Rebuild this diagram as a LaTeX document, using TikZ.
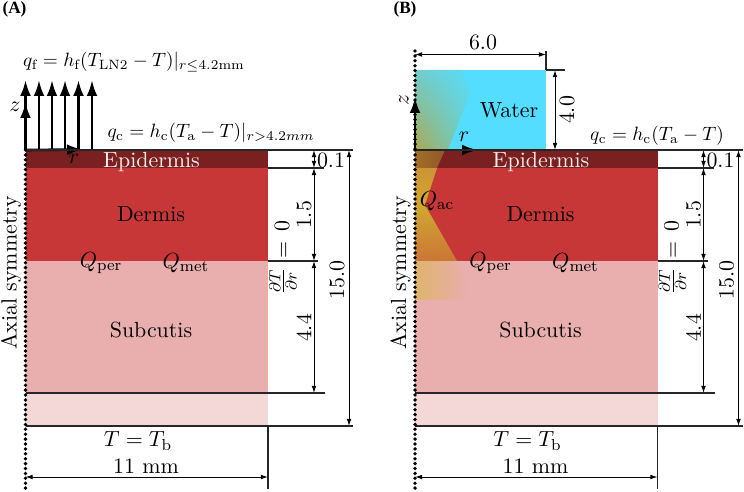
\documentclass[tikz,border=0pt,11pt]{standalone}
\usepackage{amsmath}
\usepackage{fontspec}
\newfontfamily\panelfont{Liberation Serif}
\usetikzlibrary{arrows.meta, shadings}

\definecolor{epicol}{HTML}{7A2020}
\definecolor{dermcol}{HTML}{C83737}
\definecolor{subcol}{HTML}{E9AEAE}
\definecolor{lowcol}{HTML}{F4D7D7}
\definecolor{watercol}{HTML}{55DDFF}
\definecolor{conetl}{HTML}{70CDCF}
\definecolor{conetr}{HTML}{58DCF8}
\definecolor{conebl}{HTML}{ABA850}
\definecolor{conebr}{HTML}{68D2D0}
\definecolor{coneepil}{HTML}{A36F28}
\definecolor{coneepir}{HTML}{8E5828}
\definecolor{conedtop}{HTML}{CE9433}
\definecolor{conefoc}{HTML}{D0A830}
\definecolor{conedbot}{HTML}{CB7636}
\definecolor{conesub}{HTML}{DEB46C}

\tikzset{
  dimline/.style={black, line width=0.5pt, {Latex[length=3.6pt,width=2.4pt]}-{Latex[length=3.6pt,width=2.4pt]}},
  edgeline/.style={black!85, line width=0.65pt},
  axisdots/.style={black, line width=1.9pt, line cap=round, dash pattern=on 0pt off 2.45pt},
  bigarrow/.style={black, line width=1.3pt, -{Latex[length=8pt,width=5.4pt]}},
  panellabel/.style={font=\panelfont\bfseries\fontsize{8.6}{10}\selectfont},
  fluxlabel/.style={scale=0.965},
}

\begin{document}
\begin{tikzpicture}[x=0.5pt, y=-0.5pt]
\useasboundingbox (0,0) rectangle (744,492);

% skin layers
\foreach \pn/\xs in {a/0, b/389.5} {
\begin{scope}[shift={(\xs,0)}]
\fill [epicol] (25.5,150) rectangle (268,168);
\fill [dermcol] (25.5,168) rectangle (268,261);
\fill [subcol] (25.5,261) rectangle (268,393);
\fill [lowcol] (25.5,393) rectangle (268,426);
\coordinate (\pn top) at (25.5,150);
\coordinate (\pn topr) at (353,150);
\coordinate (\pn low) at (25.5,393);
\coordinate (\pn lowr) at (325,393);
\coordinate (\pn bot) at (25.5,426);
\coordinate (\pn botr) at (353,426);
\coordinate (\pn end) at (25.5,489);
\coordinate (\pn side) at (268,426);
\coordinate (\pn sidee) at (268,489);
\coordinate (\pn epi) at (268,168);
\coordinate (\pn epir) at (324,168);
\coordinate (\pn der) at (268,261);
\coordinate (\pn derr) at (318,261);
\coordinate (\pn da) at (314,150);
\coordinate (\pn db) at (314,168);
\coordinate (\pn dc) at (314,261);
\coordinate (\pn dd) at (314,393);
\coordinate (\pn fa) at (349,150);
\coordinate (\pn fb) at (349,426);
\coordinate (\pn wa) at (25.5,477);
\coordinate (\pn wb) at (268,477);
\end{scope}
}

% water and ultrasound cone
\fill [watercol] (415,70) rectangle (546,150);
\shade [upper left=conetl, upper right=conetr, lower left=conebl, lower right=conebr]
  (415,70) -- (462,70) -- (470,93) -- (448,150) -- (415,150) -- cycle;
\shade [left color=coneepil, right color=coneepir]
  (415,150) -- (445,150) -- (437,168) -- (415,168) -- cycle;
\shade [top color=conedtop, bottom color=conefoc]
  (415,168) -- (437,168) -- (425,205) -- (415,205) -- cycle;
\shade [top color=conefoc, bottom color=conedbot]
  (415,205) -- (425,205) -- (457,261) -- (415,261) -- cycle;
\shade [left color=conesub, right color=subcol]
  (415,261) -- (457,261) -- (468,285) -- (465,299) -- (415,300) -- cycle;

% panel (A) flux arrows
\foreach \i/\ax in {1/39, 2/52, 3/65, 4/78.5, 5/92} {
  \coordinate (fb\i) at (\ax,150);
  \coordinate (ft\i) at (\ax,80);
  \draw [bigarrow] (fb\i) -- (ft\i);
}
\coordinate (aft) at (25.5,80);
\coordinate (azt) at (25.5,102);
\coordinate (art) at (83,149.5);
\draw [bigarrow] (atop) -- (aft);
\draw [bigarrow] (atop) -- (azt);

% panel (B) water dimensions
\coordinate (btopax) at (415,51);
\coordinate (bxa) at (415,54.5);
\coordinate (bxb) at (546,54.5);
\coordinate (bxc) at (546,51);
\coordinate (bxd) at (546,70);
\coordinate (bxe) at (565,70);
\coordinate (bha) at (555,70);
\coordinate (bhb) at (555,150);
\coordinate (bzt) at (415,97);
\coordinate (brt) at (478,150);
\draw [dimline] (bxa) -- (bxb);
\draw [edgeline] (bxc) -- (bxd);
\draw [edgeline] (bxd) -- (bxe);
\draw [dimline] (bha) -- (bhb);
\draw [bigarrow] (btop) -- (bzt);
\draw [bigarrow] (btop) -- (brt);
\draw [axisdots] (btopax) -- (btop);
\draw [bigarrow] (atop) -- (art);

% lines and dimensions of both panels
\foreach \pn in {a, b} {
  \draw [edgeline] (\pn top) -- (\pn topr);
  \draw [edgeline] (\pn low) -- (\pn lowr);
  \draw [edgeline] (\pn bot) -- (\pn botr);
  \draw [edgeline] (\pn side) -- (\pn sidee);
  \draw [edgeline] (\pn epi) -- (\pn epir);
  \draw [edgeline] (\pn der) -- (\pn derr);
  \draw [dimline] (\pn da) -- (\pn db);
  \draw [dimline] (\pn db) -- (\pn dc);
  \draw [dimline] (\pn dc) -- (\pn dd);
  \draw [dimline] (\pn fa) -- (\pn fb);
  \draw [dimline] (\pn wa) -- (\pn wb);
  \draw [axisdots] (\pn top) -- (\pn end);
}

% labels of both panels
\foreach \pn/\xs in {a/0, b/389.5} {
\begin{scope}[shift={(\xs,0)}]
\node [text=white!92!red] (\pn epilabel) at (151.5,162) {Epidermis};
\node (\pn dermlabel) at (151,214) {Dermis};
\node (\pn sublabel) at (151,330) {Subcutis};
\node (\pn qper) at (101,263) {$Q_{\text{per}}$};
\node (\pn qmet) at (186,263) {$Q_{\text{met}}$};
\node (\pn tb) at (138,441) {$T=T_{\text{b}}$};
\node (\pn width) at (146,466) {11 mm};
\node [rotate=90] (\pn axial) at (11,273) {Axial symmetry};
\node [rotate=90] (\pn grad) at (283,257.5) {$\frac{\partial T}{\partial r}\,=\,0$};
\node (\pn thin) at (331,160) {0.1};
\node [rotate=90] (\pn dt) at (304,215) {1.5};
\node [rotate=90] (\pn st) at (304,328) {4.4};
\node [rotate=90] (\pn tt) at (337,280) {15.0};
\end{scope}
}

\node [panellabel] (alabel) at (14.5,9) {(A)};
\node [panellabel] (blabel) at (405,9) {(B)};
\node [fluxlabel] (qf) at (134,62) {\small $q_{\text{f}}=h_{\text{f}}(T_{\text{LN2}}-T)|_{r\leq 4.2\text{mm}}$};
\node [fluxlabel] (qca) at (211,133) {\small $q_{\text{c}}=h_{\text{c}}(T_{\text{a}}-T)|_{r>4.2mm}$};
\node [fluxlabel] (qcb) at (657,136) {\small $q_{\text{c}}=h_{\text{c}}(T_{\text{a}}-T)$};
\node (az) at (15,107) {$z$};
\node (ar) at (74,159) {$r$};
\node [rotate=90] (bz) at (404,100) {$z$};
\node (br) at (464,137) {$r$};
\node (water) at (509,110) {Water};
\node (six) at (483,42) {6.0};
\node [rotate=90] (four) at (567,110) {4.0};
\node (qac) at (437,201) {$Q_{\text{ac}}$};

\end{tikzpicture}
\end{document}
